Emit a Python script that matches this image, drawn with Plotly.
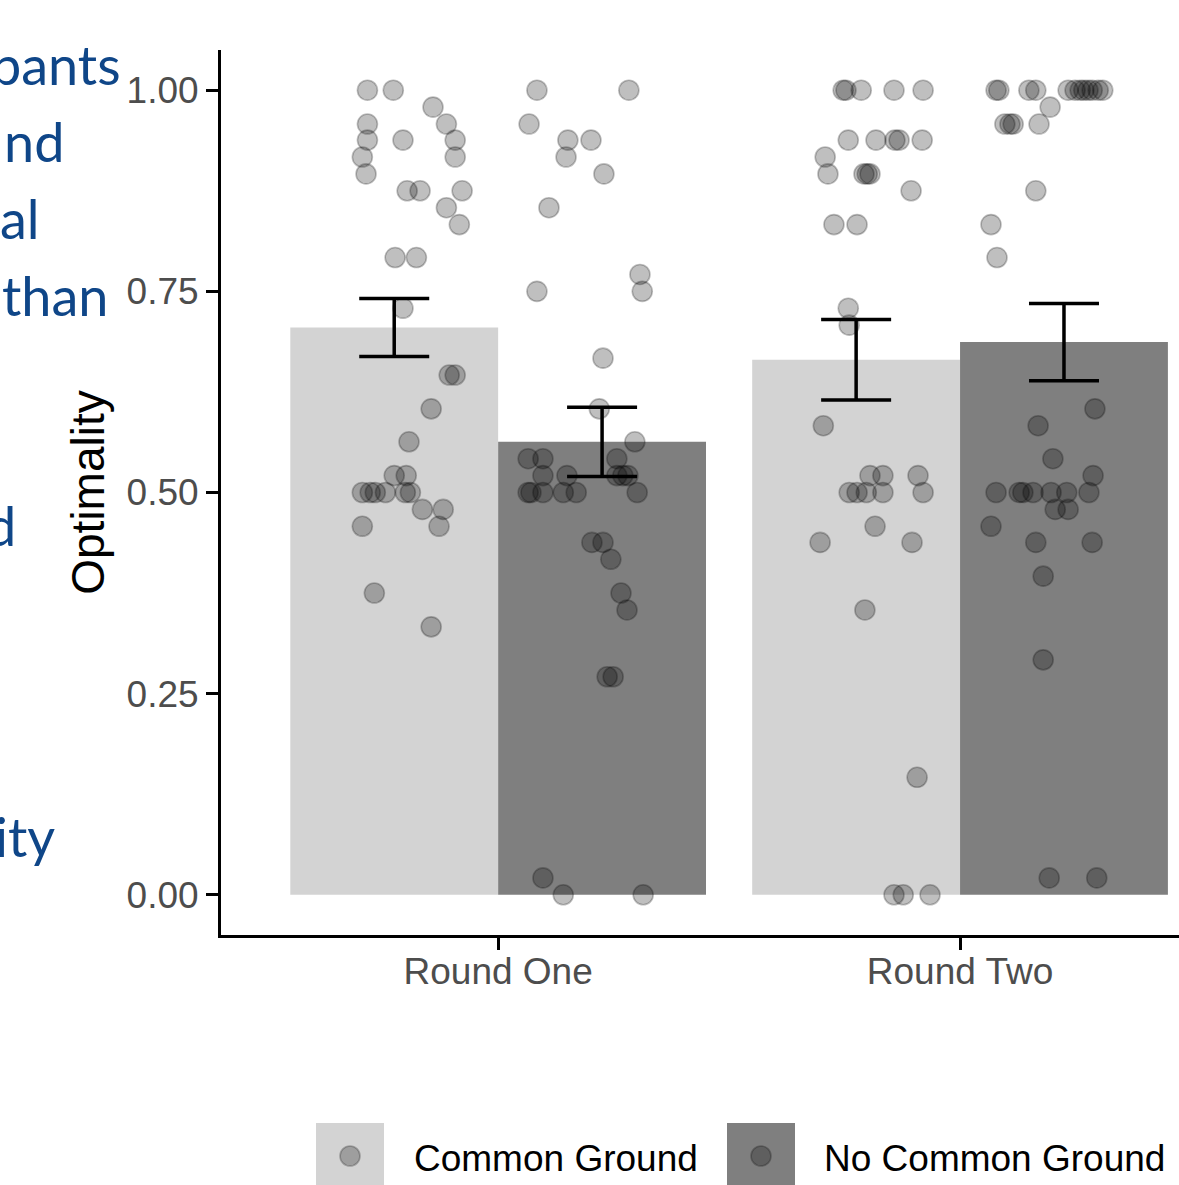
import numpy as np
import plotly.graph_objects as go

# ---------------- data ----------------
rounds = ["Round One", "Round Two"]
conditions = ["Common Ground", "No Common Ground"]
bar_colors = ["#d3d3d3", "#7f7f7f"]

mean_cg = [0.705, 0.665]
mean_ncg = [0.563, 0.687]
se_cg = [0.036, 0.050]
se_ncg = [0.043, 0.048]

# individual participants (y) and horizontal jitter (category units)
r1_cg_y = [1.0, 1.0, 0.979, 0.958, 0.958, 0.938, 0.938, 0.938, 0.917, 0.917, 0.896,
           0.875, 0.875, 0.875, 0.854, 0.833, 0.792, 0.792, 0.729, 0.646, 0.646, 0.604,
           0.563, 0.521, 0.521, 0.5, 0.5, 0.5, 0.5, 0.5, 0.5, 0.479, 0.479, 0.458, 0.458,
           0.375, 0.333]
r1_cg_j = [-0.058, -0.002, 0.084, -0.058, 0.113, -0.058, 0.019, 0.132, -0.069, 0.132, -0.061,
           0.028, 0.056, 0.147, 0.113, 0.141, 0.002, 0.048, 0.019, 0.119, 0.132, 0.080,
           0.032, 0.0, 0.026, -0.069, -0.052, -0.041, -0.019, 0.024, 0.035, 0.061, 0.106, -0.069, 0.097,
           -0.043, 0.080]

r1_ncg_y = [1.0, 1.0, 0.958, 0.938, 0.938, 0.917, 0.896, 0.854, 0.771, 0.75, 0.75, 0.667,
            0.604, 0.563, 0.542, 0.542, 0.542, 0.521, 0.521, 0.521, 0.521, 0.521,
            0.5, 0.5, 0.5, 0.5, 0.5, 0.5, 0.438, 0.438, 0.417, 0.375, 0.354, 0.271, 0.271,
            0.021, 0.0, 0.0]
r1_ncg_j = [-0.141, 0.058, -0.158, -0.074, -0.024, -0.078, 0.004, -0.115, 0.082, 0.087, -0.141, 0.002,
            -0.006, 0.071, -0.160, -0.128, 0.032, -0.128, -0.076, 0.032, 0.045, 0.056,
            -0.160, -0.154, -0.128, -0.084, -0.056, 0.076, -0.022, 0.002, 0.019, 0.041, 0.054, 0.011, 0.024,
            -0.128, -0.084, 0.089]

r2_cg_y = [1.0, 1.0, 1.0, 1.0, 1.0, 0.938, 0.938, 0.938, 0.938, 0.938, 0.917,
           0.896, 0.896, 0.896, 0.896, 0.875, 0.833, 0.833, 0.729, 0.708, 0.583,
           0.521, 0.521, 0.521, 0.5, 0.5, 0.5, 0.5, 0.5, 0.458, 0.438, 0.438, 0.354,
           0.146, 0.0, 0.0, 0.0]
r2_cg_j = [-0.028, -0.022, 0.011, 0.082, 0.145, -0.017, 0.043, 0.084, 0.093, 0.143, -0.067,
           -0.061, 0.017, 0.024, 0.030, 0.119, -0.048, 0.002, -0.017, -0.015, -0.071,
           0.030, 0.058, 0.134, -0.015, 0.002, 0.022, 0.058, 0.145, 0.041, -0.078, 0.121, 0.019,
           0.132, 0.082, 0.102, 0.160]

r2_ncg_y = [1.0, 1.0, 1.0, 1.0, 1.0, 1.0, 1.0, 1.0, 1.0, 1.0, 1.0, 1.0, 0.979,
            0.958, 0.958, 0.958, 0.958, 0.875, 0.833, 0.792, 0.604, 0.583, 0.542, 0.521,
            0.5, 0.5, 0.5, 0.5, 0.5, 0.5, 0.5, 0.479, 0.479, 0.458, 0.438, 0.438,
            0.396, 0.292, 0.021, 0.021]
r2_ncg_j = [-0.147, -0.141, -0.076, -0.061, 0.009, 0.024, 0.035, 0.043, 0.052, 0.061, 0.074, 0.084, -0.030,
            -0.128, -0.117, -0.110, -0.054, -0.061, -0.158, -0.145, 0.067, -0.056, -0.024, 0.063,
            -0.147, -0.097, -0.089, -0.067, -0.028, 0.006, 0.054, -0.019, 0.009, -0.158, -0.061, 0.061,
            -0.045, -0.045, -0.032, 0.071]

y_ticks = [0.0, 0.25, 0.5, 0.75, 1.0]
y_tick_text = ["0.00", "0.25", "0.50", "0.75", "1.00"]
side_text = ["pants", "nd", "al", "than", "d", "ity"]

# ---------------- layout constants ----------------
W, H = 1179, 1185
ML, MR, MT, MB = 221, 0, 50, 250
PW, PH = W - ML - MR, H - MT - MB
FONT = "Liberation Sans, Arial, sans-serif"
dodge = 0.45
cat_x = np.array([1.0, 2.0])
off = [-dodge / 2, dodge / 2]


def px_x(p):
    return (p - ML) / PW


def px_y(p):
    return (H - MB - p) / PH


fig = go.Figure()

# bars
for k, (means, col, name) in enumerate(zip([mean_cg, mean_ncg], bar_colors, conditions)):
    fig.add_trace(go.Bar(x=cat_x + off[k], y=means, width=dodge, marker=dict(color=col, line=dict(width=0)),
                         name=name, showlegend=False, hoverinfo="skip"))

# points
pt_col = "rgba(0,0,0,0.25)"
groups = [(0, 0, r1_cg_y, r1_cg_j), (0, 1, r1_ncg_y, r1_ncg_j),
          (1, 0, r2_cg_y, r2_cg_j), (1, 1, r2_ncg_y, r2_ncg_j)]
for ci, k, ys, js in groups:
    xs = cat_x[ci] + off[k] + np.array(js)
    fig.add_trace(go.Scatter(x=xs, y=ys, mode="markers", showlegend=False, cliponaxis=False,
                             marker=dict(size=20, color=pt_col, line=dict(color=pt_col, width=1.6))))

# error bars (on top)
for k, (means, ses) in enumerate(zip([mean_cg, mean_ncg], [se_cg, se_ncg])):
    fig.add_trace(go.Scatter(x=cat_x + off[k], y=means, mode="markers", showlegend=False,
                             marker=dict(size=1, color="rgba(0,0,0,0)"),
                             error_y=dict(type="data", array=ses, color="black", thickness=3.5, width=35)))

# manual legend
shapes = []
annotations = []
key_left = [316, 727]
text_left = [412, 822]
for k in range(2):
    shapes.append(dict(type="rect", xref="paper", yref="paper",
                       x0=px_x(key_left[k]), x1=px_x(key_left[k] + 68),
                       y0=px_y(1186), y1=px_y(1123), fillcolor=bar_colors[k], line=dict(width=0), layer="above"))
    shapes.append(dict(type="circle", xref="paper", yref="paper", xsizemode="pixel", ysizemode="pixel",
                       xanchor=px_x(key_left[k] + 34), yanchor=px_y(1156), x0=-10, x1=10, y0=-10, y1=10,
                       fillcolor=pt_col, line=dict(color=pt_col, width=1.6), layer="above"))
    annotations.append(dict(xref="paper", yref="paper", x=px_x(text_left[k]), y=px_y(1158),
                            xanchor="left", yanchor="middle", showarrow=False, text=conditions[k],
                            font=dict(family=FONT, size=37, color="black")))

# partial side text (from an overlapping box, cut at the left edge as in the source)
side_right = [123, 66, 42, 110, 18, 57]
side_cy = [65, 141, 219, 296, 525, 836]
for t, rx, cy in zip(side_text, side_right, side_cy):
    annotations.append(dict(xref="paper", yref="paper", x=px_x(rx), y=px_y(cy), xanchor="right",
                            yanchor="middle", showarrow=False, text=t,
                            font=dict(family="Lato, Noto Sans, sans-serif", size=54, color="#0f4688")))

fig.update_layout(
    width=W, height=H, margin=dict(l=ML, r=MR, t=MT, b=MB, pad=0),
    plot_bgcolor="white", paper_bgcolor="white",
    barmode="overlay", showlegend=False,
    shapes=shapes, annotations=annotations,
    font=dict(family=FONT),
    xaxis=dict(range=[0.4, 2.474], tickvals=list(cat_x), ticktext=rounds, showgrid=False, zeroline=False,
               showline=True, linecolor="black", linewidth=3, ticks="outside", ticklen=12, tickwidth=3,
               tickcolor="black", tickfont=dict(size=37, color="#4d4d4d", family=FONT),
               ticklabelstandoff=-10),
    yaxis=dict(range=[-0.05, 1.05], tickvals=y_ticks, ticktext=y_tick_text, showgrid=False, zeroline=False,
               showline=True, linecolor="black", linewidth=3, ticks="outside", ticklen=12, tickwidth=3,
               tickcolor="black", tickfont=dict(size=37, color="#4d4d4d", family=FONT),
               title=dict(text="Optimality", font=dict(size=46, color="black", family=FONT), standoff=8)),
)

fig.write_html("out.html", config={"displayModeBar": False},
               post_script="document.body.style.margin='0';document.body.style.overflow='hidden';")
